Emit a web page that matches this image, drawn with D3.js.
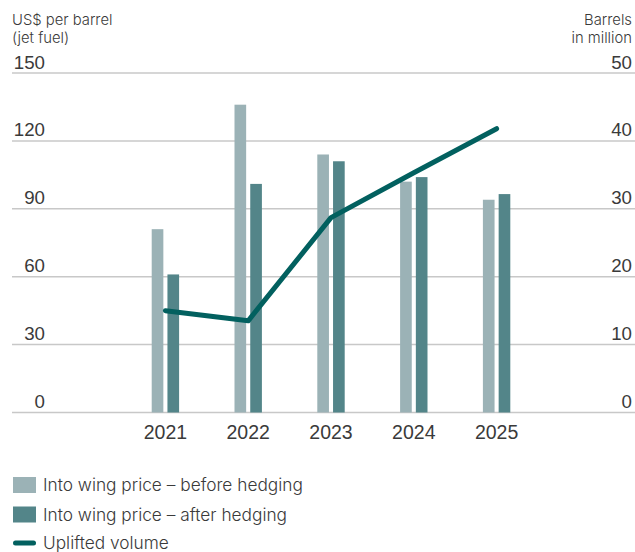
<!DOCTYPE html>
<html>
<head>
<meta charset="utf-8">
<script src="https://cdn.jsdelivr.net/npm/d3@7/dist/d3.min.js"></script>
<style>
  html, body { margin: 0; padding: 0; background: #fff; }
  svg { display: block; font-family: Inter, "Noto Sans", sans-serif; font-weight: 300; }
</style>
</head>
<body>
<svg id="chart" width="635" height="552"></svg>
<script>
// Jet fuel price per barrel (left axis) and uplifted volume (right axis)
const years = ["2021", "2022", "2023", "2024", "2025"];
const beforeHedging = [81, 136, 114, 102, 94];
const afterHedging = [61, 101, 111, 104, 96.5];
const upliftedVolume = [15, 13.5, 28.7, 35.3, 41.8];
const leftTicks = [0, 30, 60, 90, 120, 150];
const rightTicks = [0, 10, 20, 30, 40, 50];
const legendLabels = [
  "Into wing price – before hedging",
  "Into wing price – after hedging",
  "Uplifted volume"
];

const colors = { before: "#9bb2b6", after: "#538589", line: "#02605f", grid: "#c8c8c8", text: "#3a3a3a" };

const svg = d3.select("#chart");
const plotTop = 73, plotBottom = 412.5, gridLeft = 12, gridRight = 635;

const yLeft = d3.scaleLinear().domain([0, 150]).range([plotBottom, plotTop]);
const yRight = d3.scaleLinear().domain([0, 50]).range([plotBottom, plotTop]);
const x = d3.scaleBand().domain(years).range([124, 538]).padding(0);
const sub = d3.scaleBand().domain(["before", "after"]).range([-13.7, 13.7]).paddingInner(0.26);

// Gridlines
svg.append("g").selectAll("line").data(leftTicks).join("line")
  .attr("x1", gridLeft).attr("x2", gridRight)
  .attr("y1", d => yLeft(d)).attr("y2", d => yLeft(d))
  .attr("stroke", colors.grid).attr("stroke-width", 1.5);

// Left axis labels
const leftAxis = d3.axisLeft(yLeft).tickValues(leftTicks).tickSize(0).tickPadding(0);
const gL = svg.append("g").attr("transform", "translate(45,-5)").call(leftAxis);
gL.select(".domain").remove();
gL.selectAll("text").attr("font-size", 18.7).attr("fill", colors.text).attr("font-family", null).attr("dy", "0");

// Right axis labels
const rightAxis = d3.axisRight(yRight).tickValues(rightTicks).tickSize(0).tickPadding(0);
const gR = svg.append("g").attr("transform", "translate(632,-5)").call(rightAxis);
gR.select(".domain").remove();
gR.selectAll("text").attr("font-size", 18.7).attr("fill", colors.text).attr("font-family", null)
  .attr("text-anchor", "end").attr("dy", "0");

// Axis titles
const titleL = svg.append("text").attr("x", 12).attr("y", 25).attr("font-size", 14.8).attr("fill", colors.text);
titleL.append("tspan").attr("x", 12).text("US$ per barrel");
titleL.append("tspan").attr("x", 12).attr("dy", 18).text("(jet fuel)");
const titleR = svg.append("text").attr("x", 632).attr("y", 25).attr("font-size", 14.8).attr("fill", colors.text).attr("text-anchor", "end");
titleR.append("tspan").attr("x", 632).text("Barrels");
titleR.append("tspan").attr("x", 632).attr("dy", 18).text("in million");

// Bars
const groups = svg.append("g").selectAll("g").data(years).join("g")
  .attr("transform", d => `translate(${x(d) + x.bandwidth() / 2},0)`);
groups.append("rect")
  .attr("x", sub("before")).attr("width", sub.bandwidth())
  .attr("y", (d, i) => yLeft(beforeHedging[i]))
  .attr("height", (d, i) => plotBottom - yLeft(beforeHedging[i]))
  .attr("fill", colors.before);
groups.append("rect")
  .attr("x", sub("after")).attr("width", sub.bandwidth())
  .attr("y", (d, i) => yLeft(afterHedging[i]))
  .attr("height", (d, i) => plotBottom - yLeft(afterHedging[i]))
  .attr("fill", colors.after);

// Year labels
const xAxis = d3.axisBottom(x).tickSize(0).tickPadding(0);
const gX = svg.append("g").attr("transform", `translate(0,${plotBottom + 26.5})`).call(xAxis);
gX.select(".domain").remove();
gX.selectAll("text").attr("font-size", 19.5).attr("fill", colors.text).attr("font-family", null).attr("dy", "0");

// Volume line
const line = d3.line()
  .x((d, i) => x(years[i]) + x.bandwidth() / 2)
  .y(d => yRight(d));
svg.append("path").datum(upliftedVolume).attr("d", line)
  .attr("fill", "none").attr("stroke", colors.line).attr("stroke-width", 5)
  .attr("stroke-linecap", "round").attr("stroke-linejoin", "round");

// Legend
const legend = svg.append("g").attr("transform", "translate(13,0)");
const legendRows = [
  { type: "rect", color: colors.before, y: 485 },
  { type: "rect", color: colors.after, y: 514.5 },
  { type: "line", color: colors.line, y: 543 }
];
legendRows.forEach((r, i) => {
  if (r.type === "rect") {
    legend.append("rect").attr("x", 0).attr("y", r.y - 8).attr("width", 23).attr("height", 16).attr("fill", r.color);
  } else {
    legend.append("line").attr("x1", 2.5).attr("x2", 20.5).attr("y1", r.y).attr("y2", r.y)
      .attr("stroke", r.color).attr("stroke-width", 5).attr("stroke-linecap", "round");
  }
  legend.append("text").attr("x", 30).attr("y", r.y + 6).attr("font-size", 17.3).attr("fill", colors.text)
    .text(legendLabels[i]);
});
</script>
</body>
</html>
